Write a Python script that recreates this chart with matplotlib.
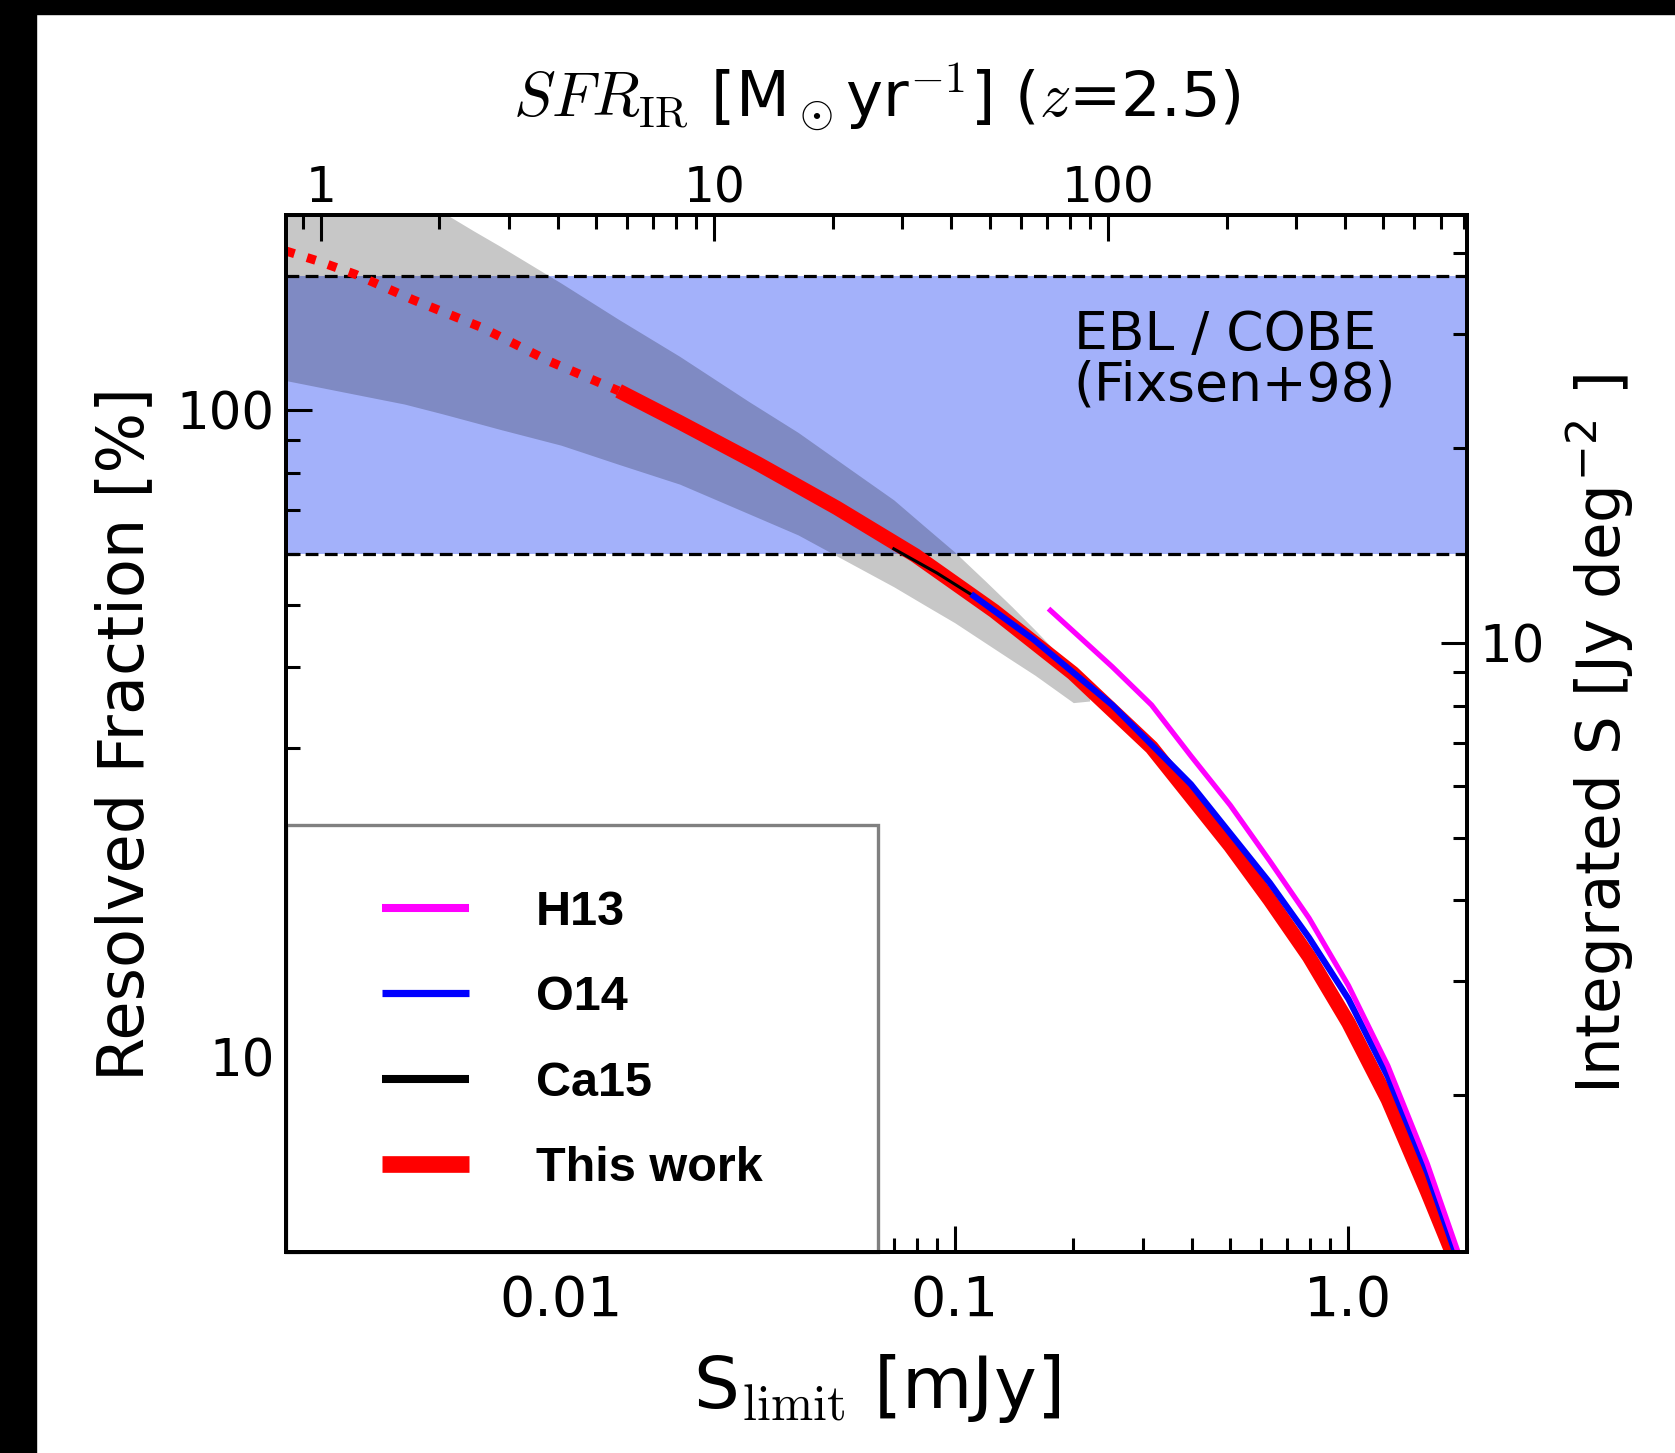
import matplotlib
matplotlib.use("Agg")
import matplotlib.pyplot as plt
from matplotlib.patches import Rectangle

# resolved fraction [%] against S_limit [mJy]
this_work_s = [0.002, 0.0024, 0.003, 0.0042, 0.0063, 0.0093, 0.014,
               0.02, 0.0316, 0.0501, 0.0794, 0.1259, 0.1995, 0.3162,
               0.501, 0.631, 0.794, 1.0, 1.259, 1.585, 1.995]
this_work_p = [176, 170, 162, 148, 134, 119, 107,
               95.7, 82.6, 70.6, 59.6, 48.9, 39.2, 30.1,
               21.2, 17.5, 14.3, 11.3, 8.6, 6.2, 4.4]
det_limit = 0.014  # extrapolated (dotted) below this

band_s = [0.002, 0.003, 0.004, 0.005, 0.006, 0.007, 0.01, 0.014, 0.02, 0.03, 0.04,
          0.055, 0.07, 0.085, 0.1, 0.12, 0.14, 0.16, 0.2, 0.22]
band_hi = [278, 242, 218, 202, 189, 179, 157, 138, 121, 103, 92.3,
           80.5, 72.6, 65.6, 60.3, 54.3, 49.6, 45.7, 39.7, 37.3]
band_lo = [111, 105.7, 102.1, 98.6, 95.7, 93.3, 88.2, 82.4, 76.8, 69.1, 64.1,
           57.7, 53.3, 49.7, 46.9, 43.6, 41.0, 38.9, 35.3, 35.5]

h13_s = [0.175, 0.2512, 0.3162, 0.398, 0.501, 0.631, 0.794, 1.0, 1.259, 1.585, 1.905]
h13_p = [49.0, 40.1, 35.0, 29.2, 24.5, 20.1, 16.4, 12.9, 9.7, 6.85, 4.97]

o14_s = [0.1117, 0.1585, 0.2512, 0.398, 0.631, 0.794, 1.0, 1.259, 1.585, 1.862, 1.995]
o14_p = [51.6, 44.2, 35.0, 26.4, 18.6, 15.3, 12.3, 9.33, 6.64, 5.02, 4.46]

ca15_s = [0.07, 0.09, 0.115]
ca15_p = [61.0, 56.0, 51.0]

ebl_lo_pct, ebl_hi_pct = 60, 161   # Fixsen+98 range
ebl_total = 22.9                   # Jy deg^-2 corresponding to 100 %
sfr_per_mjy = 408                  # SFR_IR (z=2.5) per mJy

xlim = (0.002, 2.0)
ylim = (5, 200)

plt.rcParams['mathtext.fontset'] = 'cm'
plt.rcParams['font.family'] = 'DejaVu Sans'

fig = plt.figure(figsize=(16.75, 14.53), dpi=100)
ax = fig.add_axes([0.1707, 0.1383, 0.8758 - 0.1707, 0.852 - 0.1383])

# black border strips on left and top
fig.add_artist(Rectangle((0, 0), 36 / 1675, 1, transform=fig.transFigure,
                         color='black', zorder=20))
fig.add_artist(Rectangle((0, 1 - 14 / 1453), 1, 14 / 1453, transform=fig.transFigure,
                         color='black', zorder=20))

ax.axhspan(ebl_lo_pct, ebl_hi_pct, color='#a3b1fa', lw=0, zorder=1)
ax.fill_between(band_s, band_lo, band_hi, color='black', alpha=0.22, lw=0, zorder=2)
for yv in (ebl_lo_pct, ebl_hi_pct):
    ax.axhline(yv, color='black', lw=2.3, dashes=(4, 2), zorder=3)

n_dot = len([s for s in this_work_s if s <= det_limit])
ax.plot(this_work_s[:n_dot], this_work_p[:n_dot], color='red', lw=6.5,
        dashes=(1, 1.45), zorder=4)
l_red, = ax.plot(this_work_s[n_dot - 1:], this_work_p[n_dot - 1:], color='red',
                 lw=10.5, zorder=4, solid_capstyle='butt', solid_joinstyle='round')
l_ca, = ax.plot(ca15_s, ca15_p, color='black', lw=2.2, zorder=5)
l_o14, = ax.plot(o14_s, o14_p, color='blue', lw=4.5, zorder=6, solid_joinstyle='round')
l_h13, = ax.plot(h13_s, h13_p, color='magenta', lw=3.8, zorder=7, solid_joinstyle='round')

ax.set_xscale('log')
ax.set_yscale('log')
ax.set_xlim(xlim)
ax.set_ylim(ylim)
ax.set_xticks([0.01, 0.1, 1.0], ['0.01', '0.1', '1.0'])
ax.set_yticks([10, 100], ['10', '100'])

tick_kw = dict(direction='in', width=2.2, color='black')
ax.tick_params(which='major', length=19, **tick_kw)
ax.tick_params(which='minor', length=10, **tick_kw)
ax.tick_params(top=False, right=False, which='both')
ax.tick_params(axis='x', which='major', labelsize=40, pad=16)
ax.tick_params(axis='y', which='major', labelsize=37, pad=8)
for sp in ax.spines.values():
    sp.set_linewidth(2.8)

ax.set_xlabel(r'S$_{\rm limit}$ [mJy]', fontsize=52, labelpad=17)
ax.set_ylabel('Resolved Fraction [%]', fontsize=46, labelpad=15)

ax.text(0.667, 0.909, 'EBL / COBE\n(Fixsen+98)', transform=ax.transAxes,
        fontsize=38.5, ha='left', va='top', linespacing=0.95, zorder=8)

# right axis: integrated flux
ax2 = ax.twinx()
ax2.set_yscale('log')
ax2.set_ylim(ylim[0] / 100 * ebl_total, ylim[1] / 100 * ebl_total)
ax2.set_yticks([10], ['10'])
ax2.tick_params(which='major', length=19, **tick_kw)
ax2.tick_params(which='minor', length=10, **tick_kw)
ax2.tick_params(axis='y', labelsize=37, pad=9)
ax2.set_ylabel(r'Integrated S [Jy deg$^{\mathdefault{-2}}$ ]', fontsize=44, labelpad=14)

# top axis: SFR
ax3 = ax.twiny()
ax3.set_xscale('log')
ax3.set_xlim(xlim[0] * sfr_per_mjy, xlim[1] * sfr_per_mjy)
ax3.set_xticks([1, 10, 100], ['1', '10', '100'])
ax3.tick_params(which='major', length=19, **tick_kw)
ax3.tick_params(which='minor', length=10, **tick_kw)
ax3.tick_params(axis='x', labelsize=35, pad=2)
ax3.set_xlabel(r'$SFR_{\rm IR}$ [M$_\odot$yr$^{-1}$] ($z$=2.5)', fontsize=45, labelpad=34)
for a in (ax2, ax3):
    for sp in a.spines.values():
        sp.set_linewidth(2.8)

# legend with a separate frame reaching the lower-left corner
ax.add_patch(Rectangle((0, 0), 0.501, 0.412, transform=ax.transAxes, facecolor='white',
                       edgecolor='#808080', lw=2.4, zorder=9, clip_on=False))
leg = ax.legend([l_h13, l_o14, l_ca, l_red], ['H13', 'O14', 'Ca15', 'This work'],
                loc='upper left', bbox_to_anchor=(0.0813, 0.349), frameon=False,
                prop={'family': 'Liberation Sans', 'weight': 'bold', 'size': 35},
                handlelength=1.8, handletextpad=1.36, labelspacing=0.83,
                borderpad=0, borderaxespad=0)
leg.set_zorder(10)
for ln, w in zip(leg.get_lines(), [5.8, 5.2, 5.8, 12]):
    ln.set_linewidth(w)
    ln.set_solid_capstyle('butt')

fig.savefig('out.png', dpi=100)
